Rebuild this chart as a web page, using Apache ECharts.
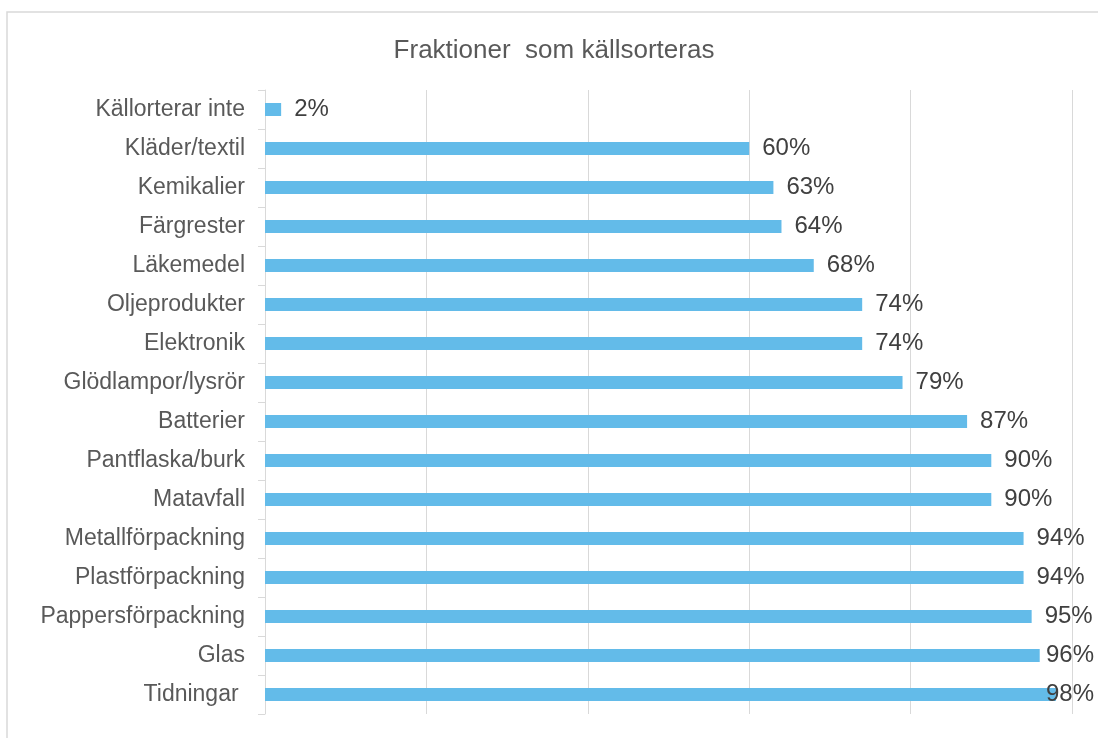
<!DOCTYPE html>
<html>
<head>
<meta charset="utf-8">
<script src="https://cdn.jsdelivr.net/npm/echarts@6/dist/echarts.min.js"></script>
<style>html,body{margin:0;padding:0;background:#fff;}#c{width:1098px;height:738px;}</style>
</head>
<body>
<div id="c"></div>
<script>
const titleText = 'Fraktioner  som källsorteras';
const categories = ['Källorterar inte','Kläder/textil','Kemikalier','Färgrester','Läkemedel','Oljeprodukter','Elektronik','Glödlampor/lysrör','Batterier','Pantflaska/burk','Matavfall','Metallförpackning','Plastförpackning','Pappersförpackning','Glas','Tidningar '];
const values = [0.02,0.60,0.63,0.64,0.68,0.74,0.74,0.79,0.87,0.90,0.90,0.94,0.94,0.95,0.96,0.98];

const W = 1098;
const chart = echarts.init(document.getElementById('c'));
chart.setOption({
  animation: false,
  backgroundColor: '#ffffff',
  title: {
    text: titleText, left: 549, textAlign: 'center', top: 33,
    textStyle: { fontFamily: 'Liberation Sans', fontSize: 26, fontWeight: 'normal', color: '#595959' }
  },
  graphic: [{
    type: 'rect', shape: { x: 7, y: 12, width: 1200, height: 800 },
    style: { fill: 'none', stroke: '#d9d9d9', lineWidth: 1.5 }, silent: true, z: -1
  }],
  grid: { left: 265, right: 26, top: 90, bottom: 24, containLabel: false },
  xAxis: {
    type: 'value', min: 0, max: 1, interval: 0.2,
    axisLabel: { show: false }, axisLine: { show: false }, axisTick: { show: false },
    splitLine: { lineStyle: { color: '#d9d9d9', width: 1 } }
  },
  yAxis: {
    type: 'category', data: categories, inverse: true,
    axisLine: { lineStyle: { color: '#d9d9d9', width: 1 } },
    axisTick: { show: true, length: 7, lineStyle: { color: '#d9d9d9' } },
    axisLabel: { fontFamily: 'Liberation Sans', fontSize: 23, color: '#595959', margin: 20 }
  },
  series: [{
    type: 'bar', data: values, barWidth: 13,
    itemStyle: { color: '#63bbe9' },
    label: {
      show: true, position: 'right', distance: 13,
      fontFamily: 'Liberation Sans', fontSize: 24, color: '#404040',
      formatter: p => Math.round(p.value * 100) + '%'
    },
    labelLayout: function (params) {
      const r = params.labelRect;
      if (r.x + r.width > W - 4) {
        return { x: W - 4 - r.width, y: r.y + r.height / 2, align: 'left', verticalAlign: 'middle' };
      }
      return {};
    }
  }]
});
</script>
</body>
</html>
